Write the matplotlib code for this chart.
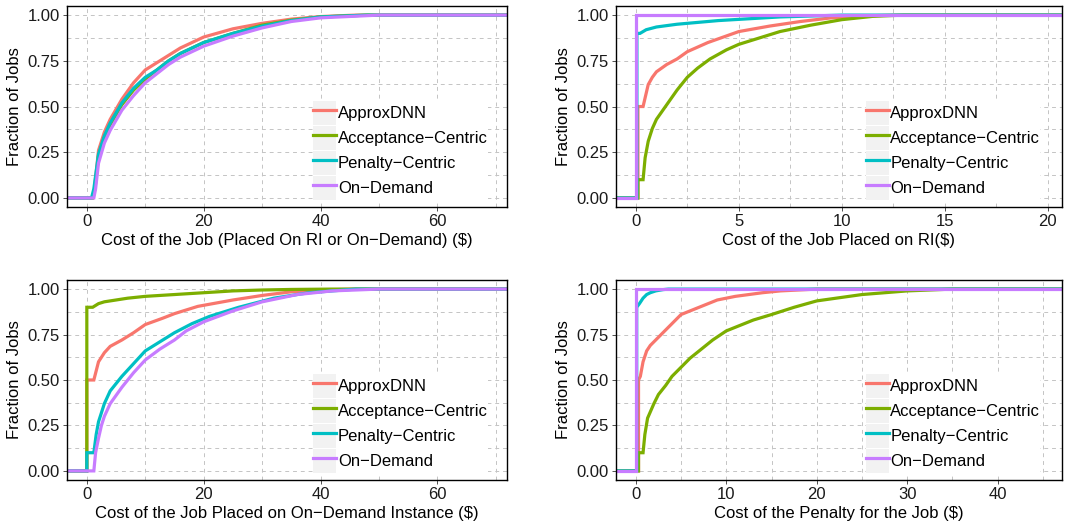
import numpy as np
import matplotlib
matplotlib.use("Agg")
import matplotlib.pyplot as plt
from matplotlib.legend_handler import HandlerLine2D
from matplotlib.patches import Rectangle
from matplotlib.ticker import MultipleLocator

plt.rcParams['font.family'] = ['Liberation Sans', 'DejaVu Sans']

series_names = ["ApproxDNN", "Acceptance\u2212Centric", "Penalty\u2212Centric", "On\u2212Demand"]
colors = ["#F8766D", "#7CAE00", "#00BFC4", "#C77CFF"]

# panel 1: total cost of the job
p1_approx_x = [1.0, 1.3, 2, 3, 4, 6, 8, 10, 12, 14, 16, 20, 25, 30, 35, 40, 46]
p1_approx_y = [0.0, 0.05, 0.26, 0.36, 0.43, 0.54, 0.63, 0.70, 0.74, 0.78, 0.82, 0.88, 0.925, 0.955, 0.978, 0.992, 1.0]
p1_accept_x = [1.0, 1.4, 2, 3, 4, 6, 8, 10, 12, 14, 16, 20, 25, 30, 35, 40, 48]
p1_accept_y = [0.0, 0.05, 0.23, 0.33, 0.40, 0.51, 0.59, 0.65, 0.70, 0.75, 0.79, 0.85, 0.90, 0.945, 0.972, 0.99, 1.0]
p1_penalty_x = [0.8, 1.2, 2, 3, 4, 6, 8, 10, 12, 14, 16, 20, 25, 30, 35, 40, 48]
p1_penalty_y = [0.0, 0.05, 0.24, 0.34, 0.41, 0.52, 0.60, 0.66, 0.70, 0.75, 0.79, 0.85, 0.90, 0.94, 0.97, 0.99, 1.0]
p1_od_x = [1.2, 1.5, 2, 3, 4, 6, 8, 10, 12, 14, 16, 20, 25, 30, 35, 40, 50]
p1_od_y = [0.0, 0.05, 0.19, 0.30, 0.37, 0.48, 0.56, 0.63, 0.68, 0.73, 0.77, 0.83, 0.885, 0.93, 0.965, 0.985, 1.0]

# panel 2: cost of the job placed on RI
p2_approx_x = [0.1, 0.1, 0.35, 0.6, 0.8, 1.0, 1.5, 2.0, 2.5, 3.5, 5.0, 6.5, 8.0, 9.5, 11.0, 12.5]
p2_approx_y = [0.0, 0.50, 0.50, 0.62, 0.66, 0.69, 0.73, 0.76, 0.80, 0.85, 0.91, 0.94, 0.965, 0.985, 0.995, 1.0]
p2_accept_x = [0.1, 0.1, 0.35, 0.45, 0.6, 0.8, 1.0, 1.5, 2.0, 2.5, 3.0, 3.6, 4.4, 5.0, 6.0, 7.0, 8.5, 10.0, 11.5, 13.0]
p2_accept_y = [0.0, 0.10, 0.10, 0.22, 0.31, 0.38, 0.43, 0.51, 0.59, 0.66, 0.71, 0.76, 0.81, 0.84, 0.875, 0.91, 0.945, 0.975, 0.993, 1.0]
p2_penalty_x = [0.05, 0.05, 0.2, 0.5, 1.0, 2.0, 3.0, 4.0, 5.5, 7.0, 8.5, 10.0]
p2_penalty_y = [0.0, 0.90, 0.90, 0.92, 0.935, 0.95, 0.96, 0.97, 0.98, 0.99, 0.995, 1.0]
p2_od_x = [0.0, 0.0]
p2_od_y = [0.0, 1.0]

# panel 3: cost of the job placed on an on-demand instance
p3_approx_x = [0.0, 0.0, 1.2, 1.6, 2.0, 3.0, 4.0, 6.0, 8.0, 10.0, 13.0, 15.0, 19.0, 25.0, 30.0, 35.0, 40.0, 46.0]
p3_approx_y = [0.0, 0.50, 0.50, 0.55, 0.60, 0.65, 0.685, 0.72, 0.76, 0.805, 0.84, 0.865, 0.905, 0.94, 0.965, 0.985, 0.995, 1.0]
p3_accept_x = [0.0, 0.0, 1.0, 2.0, 3.0, 5.0, 7.0, 10.0, 15.0, 20.0, 25.0, 30.0, 35.0, 42.0]
p3_accept_y = [0.0, 0.90, 0.90, 0.92, 0.93, 0.94, 0.95, 0.96, 0.97, 0.98, 0.99, 0.995, 0.998, 1.0]
p3_penalty_x = [0.0, 0.0, 1.2, 1.6, 2.0, 3.0, 4.0, 6.0, 8.0, 10.0, 12.5, 15.0, 18.0, 21.0, 26.0, 32.0, 38.0, 46.0]
p3_penalty_y = [0.0, 0.10, 0.10, 0.20, 0.27, 0.37, 0.44, 0.52, 0.59, 0.66, 0.71, 0.76, 0.81, 0.85, 0.90, 0.95, 0.98, 1.0]
p3_od_x = [1.2, 1.5, 2.0, 2.5, 3.0, 4.0, 6.0, 8.0, 10.0, 12.5, 15.0, 17.0, 20.0, 25.0, 30.0, 36.0, 42.0, 50.0]
p3_od_y = [0.0, 0.10, 0.18, 0.25, 0.30, 0.37, 0.46, 0.54, 0.61, 0.67, 0.72, 0.77, 0.82, 0.88, 0.93, 0.97, 0.99, 1.0]

# panel 4: cost of the penalty for the job
p4_approx_x = [0.3, 0.3, 0.5, 0.8, 1.2, 1.6, 2.2, 3.0, 3.8, 5.0, 6.0, 7.0, 9.0, 11.0, 14.0, 16.0, 20.0]
p4_approx_y = [0.0, 0.50, 0.52, 0.60, 0.66, 0.69, 0.72, 0.76, 0.80, 0.86, 0.88, 0.90, 0.94, 0.96, 0.98, 0.99, 1.0]
p4_accept_x = [0.3, 0.3, 0.8, 1.0, 1.3, 2.0, 2.5, 3.3, 4.0, 5.0, 6.0, 7.0, 8.5, 10.0, 13.0, 15.0, 17.5, 20.0, 25.0, 30.0, 35.0]
p4_accept_y = [0.0, 0.10, 0.10, 0.20, 0.29, 0.37, 0.42, 0.47, 0.52, 0.57, 0.62, 0.66, 0.72, 0.77, 0.83, 0.86, 0.90, 0.935, 0.97, 0.99, 1.0]
p4_penalty_x = [0.1, 0.1, 0.4, 0.8, 1.2, 1.6, 2.2, 3.0, 3.6]
p4_penalty_y = [0.0, 0.90, 0.92, 0.95, 0.97, 0.98, 0.99, 0.997, 1.0]
p4_od_x = [0.0, 0.0]
p4_od_y = [0.0, 1.0]

panels = [
    dict(data=[(p1_approx_x, p1_approx_y), (p1_accept_x, p1_accept_y),
               (p1_penalty_x, p1_penalty_y), (p1_od_x, p1_od_y)],
         xlabel="Cost of the Job (Placed On RI or On\u2212Demand) (\\$)",
         xlim=(-3.4, 71.9), major=20, minor=10),
    dict(data=[(p2_approx_x, p2_approx_y), (p2_accept_x, p2_accept_y),
               (p2_penalty_x, p2_penalty_y), (p2_od_x, p2_od_y)],
         xlabel="Cost of the Job Placed on RI(\\$)",
         xlim=(-0.97, 20.7), major=5, minor=2.5),
    dict(data=[(p3_approx_x, p3_approx_y), (p3_accept_x, p3_accept_y),
               (p3_penalty_x, p3_penalty_y), (p3_od_x, p3_od_y)],
         xlabel="Cost of the Job Placed on On\u2212Demand Instance (\\$)",
         xlim=(-3.4, 71.9), major=20, minor=10),
    dict(data=[(p4_approx_x, p4_approx_y), (p4_accept_x, p4_accept_y),
               (p4_penalty_x, p4_penalty_y), (p4_od_x, p4_od_y)],
         xlabel="Cost of the Penalty for the Job (\\$)",
         xlim=(-2.2, 47.1), major=10, minor=5),
]


class KeyHandler(HandlerLine2D):
    # ggplot-style legend key: grey box behind the line
    def create_artists(self, legend, orig_handle, xdescent, ydescent,
                       width, height, fontsize, trans):
        box = Rectangle((-xdescent, -ydescent), width, height,
                        facecolor="#F2F2F2", edgecolor="none", transform=trans)
        arts = super().create_artists(legend, orig_handle, xdescent, ydescent,
                                      width, height, fontsize, trans)
        return [box] + list(arts)


fig = plt.figure(figsize=(10.73, 5.27), dpi=100)
rects = [
    [0.0624, 0.607, 0.4101, 0.3817],
    [0.574, 0.607, 0.4157, 0.3817],
    [0.0624, 0.0892, 0.4101, 0.3795],
    [0.574, 0.0892, 0.4157, 0.3795],
]

for rect, p in zip(rects, panels):
    ax = fig.add_axes(rect)
    lines = []
    for (xs, ys), name, c in zip(p["data"], series_names, colors):
        # pad like stat_ecdf: 0 at -inf, 1 at +inf
        x = np.r_[-1e3, xs, 1e3]
        y = np.r_[0.0, ys, 1.0]
        ln, = ax.plot(x, y, color=c, lw=2.3, label=name, solid_joinstyle="miter")
        lines.append(ln)

    ax.set_xlim(*p["xlim"])
    ax.set_ylim(-0.05, 1.05)
    ax.xaxis.set_major_locator(MultipleLocator(p["major"]))
    ax.xaxis.set_minor_locator(MultipleLocator(p["minor"]))
    ax.set_yticks([0, 0.25, 0.5, 0.75, 1.0])
    ax.set_yticklabels(["0.00", "0.25", "0.50", "0.75", "1.00"])
    ax.yaxis.set_minor_locator(MultipleLocator(0.125))

    ax.grid(True, which="both", color="#C4C4C4", lw=0.7, linestyle=(0, (4, 4)))
    ax.set_axisbelow(True)
    for s in ax.spines.values():
        s.set_color("black")
        s.set_linewidth(1.0)
    ax.tick_params(which="major", length=3, width=0.6, color="#333333",
                   labelsize=12, labelcolor="#1a1a1a", pad=2)
    ax.tick_params(which="minor", length=0)

    ax.set_xlabel(p["xlabel"], fontsize=12, color="black", labelpad=3)
    ax.set_ylabel("Fraction of Jobs", fontsize=12, color="black", labelpad=4)

    leg = ax.legend(handles=lines, loc="lower left", bbox_to_anchor=(0.56, 0.035),
                    fontsize=12, frameon=True, fancybox=False, borderpad=0.0,
                    borderaxespad=0, handlelength=1.38, handleheight=1.84,
                    handletextpad=0.1, labelspacing=0.06,
                    handler_map={plt.Line2D: KeyHandler()})
    leg.get_frame().set_facecolor("white")
    leg.get_frame().set_edgecolor("none")
    leg.get_frame().set_alpha(1)

fig.savefig("out.png", dpi=100)
